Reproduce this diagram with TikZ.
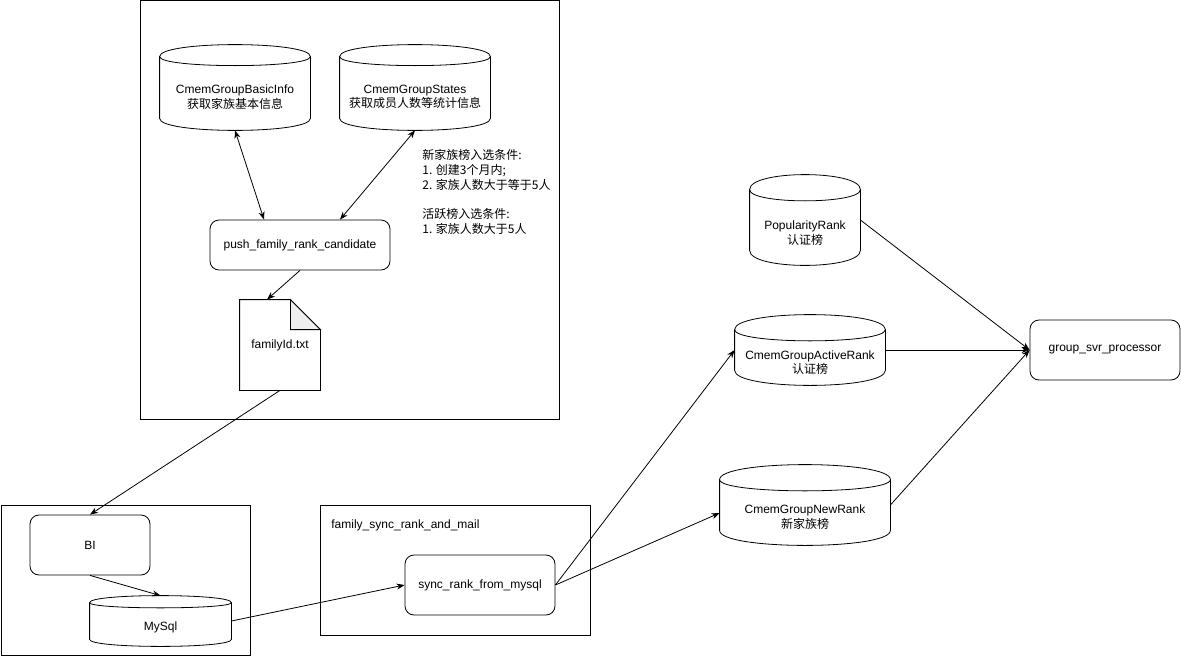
\documentclass[tikz,border=0pt]{standalone}
\usepackage{fontspec}
\setmainfont{Liberation Sans}
\newfontfamily\cjk{Noto Sans CJK SC}
\usepackage{tikz}
\usetikzlibrary{arrows.meta,calc}

\definecolor{foldgray}{HTML}{EEEEEE}

% cylinder outline round an empty node: name, cap height
\newcommand{\dbdrum}[2]{%
  \draw ($(#1.north west)+(0,#2)$) .. controls +(0,-4/3*#2) and +(0,-4/3*#2) .. ($(#1.north east)+(0,#2)$)
    -- ($(#1.south east)+(0,-#2)$) .. controls +(0,4/3*#2) and +(0,4/3*#2) .. ($(#1.south west)+(0,-#2)$) -- cycle;
  \draw ($(#1.north west)+(0,#2)$) .. controls +(0,#2) and +(0,#2) .. ($(#1.north east)+(0,#2)$);
}

\tikzset{
  dims/.style 2 args={minimum width=#1pt, minimum height=#2pt},
  txt/.style={font=\fontsize{12}{14.5}\selectfont, align=center, inner sep=0pt},
  proc/.style={txt, draw, rounded corners=9pt},
  frame/.style={draw, inner sep=0pt, line width=1pt},
  drum/.style={inner sep=0pt},
  tip/.style={Stealth[length=8pt,width=6pt,inset=2.5pt]},
  flow/.style={-{Stealth[length=8pt,width=6pt,inset=2.5pt]}},
  twoway/.style={{Stealth[length=8pt,width=6pt,inset=2.5pt]}-{Stealth[length=8pt,width=6pt,inset=2.5pt]}}
}

\begin{document}
\begin{tikzpicture}[x=1pt, y=-1pt, line width=0.8pt]
    \useasboundingbox (0,0) rectangle (1181,656);

    % frames
    \node[frame, dims={419}{419}] (famframe) at (350,210) {};
    \node[frame, dims={249}{150}] (biframe) at (125.5,580) {};
    \node[frame, dims={270}{130}] (syncframe) at (455,570) {};

    % candidate job and its sources
    \node[drum, dims={150}{85}] (basic) at (235,87.5) {};
    \dbdrum{basic}{12}
    \node[txt] (basic-t) at (235,97) {CmemGroupBasicInfo\\{\cjk 获取家族基本信息}};
    \node[drum, dims={150}{85}] (states) at (415,87.5) {};
    \dbdrum{states}{12}
    \node[txt] (states-t) at (415,97) {CmemGroupStates\\{\cjk 获取成员人数等统计信息}};
    \node[proc, dims={180}{50}] (push) at (300,245) {push\_family\_rank\_candidate};
    \node[txt, dims={80}{90}] (note) at (280,345) {familyId.txt};
    \draw (note.north west) -- ([xshift=-30pt]note.north east) -- ([yshift=-30pt]note.north east)
        -- (note.south east) -- (note.south west) -- cycle;
    \draw[fill=foldgray] ([xshift=-30pt]note.north east) -- ([xshift=-30pt,yshift=-30pt]note.north east)
        -- ([yshift=-30pt]note.north east) -- cycle;
    \node[txt, align=left, anchor=west, font=\cjk\fontsize{12}{14.8}\selectfont] (rules) at (422,192)
        {新家族榜入选条件:\\1. 创建3个月内;\\2. 家族人数大于等于5人\\[14.8pt]活跃榜入选条件:\\1. 家族人数大于5人};

    % BI and mysql
    \node[proc, dims={120}{60}] (bi) at (90,545) {BI};
    \node[drum, dims={141}{50}] (mysql) at (160.5,621) {};
    \dbdrum{mysql}{7}
    \node[txt] (mysql-t) at (160.5,627) {MySql};

    % sync job
    \node[txt, anchor=west] (synclbl) at (331,525) {family\_sync\_rank\_and\_mail};
    \node[proc, dims={150}{60}] (sync) at (480,585) {sync\_rank\_from\_mysql};

    % ranks
    \node[drum, dims={110}{90}] (pop) at (805,220) {};
    \dbdrum{pop}{15}
    \node[txt] (pop-t) at (805,233) {PopularityRank\\{\cjk 认证榜}};
    \node[drum, dims={150}{70}] (active) at (810,350) {};
    \dbdrum{active}{15}
    \node[txt] (active-t) at (810,362.5) {CmemGroupActiveRank\\{\cjk 认证榜}};
    \node[drum, dims={170}{80}] (new) at (805,505) {};
    \dbdrum{new}{15}
    \node[txt] (new-t) at (805,517) {CmemGroupNewRank\\{\cjk 新家族榜}};
    \node[proc, dims={150}{60}] (grp) at (1105,350) {group\_svr\_processor};

    % connectors
    \draw[twoway] (basic.south) -- ([xshift=-36pt]push.north);
    \draw[twoway] (states.south) -- ([xshift=40pt]push.north);
    \draw[flow] (push.south) -- ([xshift=-13pt]note.north);
    \draw[flow] (note.south) -- (bi.north);
    \draw[flow] (bi.south) -- (mysql.north);
    \draw[flow] (mysql.east) -- (sync.west);
    \draw[flow] (sync.east) -- (active.west);
    \draw[flow] (sync.east) -- ([yshift=-8pt]new.west);
    \draw[flow] (pop.east) -- (grp.west);
    \draw[flow] (active.east) -- (grp.west);
    \draw[flow] (new.east) -- (grp.west);
\end{tikzpicture}
\end{document}
